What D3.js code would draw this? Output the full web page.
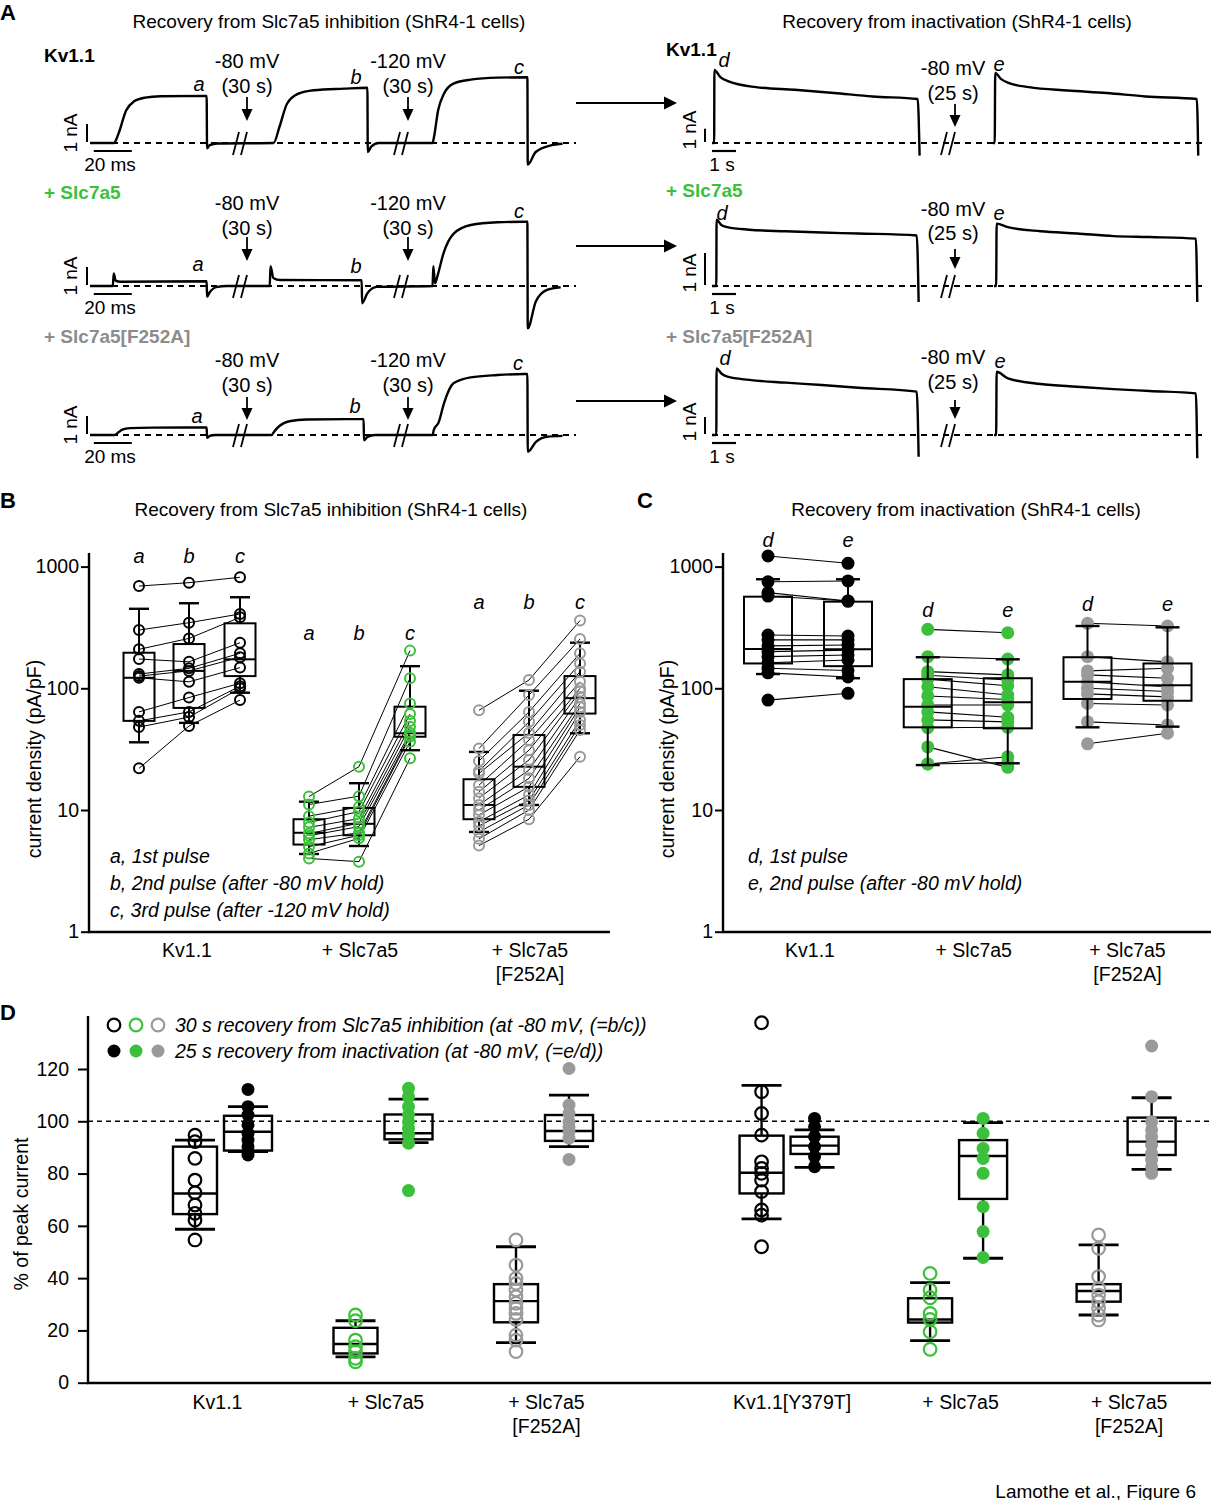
<!DOCTYPE html>
<html><head><meta charset="utf-8">
<script src="https://cdn.jsdelivr.net/npm/d3@7"></script>
<style>body{margin:0;background:#fff;} svg{display:block;font-family:"Liberation Sans",Arial,sans-serif;}</style>
</head><body><svg id="fig" width="1211" height="1500"></svg>
<script>
// ================= DATA =================
// Panel A traces: [time (ms), current (nA)] for left, [time (s), current (nA)] for right
const trKvL = [[0,0],[12.6,0],[15,0.52],[19,1.81],[23,2.3],[29,2.52],[37,2.6],[61.4,2.62],[61.6,-0.3],[63,-0.12],[67,-0.03],[96.6,0],[99.7,0.89],[103.7,2.18],[109.7,2.74],[117.8,2.93],[133.7,3.02],[146,3.07],[146.2,-0.5],[148,-0.2],[152,0],[180.3,0],[181,0.3],[183.2,1.81],[186.3,2.74],[191.3,3.3],[200.4,3.52],[214.5,3.63],[230.2,3.65],[230.4,-1.2],[234.6,-0.5],[242.6,-0.13],[248.7,-0.04]];
const trSlL = [[0,0],[12,0],[12.5,0.7],[13.5,0.3],[16,0.24],[61.4,0.26],[61.6,-0.6],[63,-0.35],[67,-0.05],[72,0],[94.6,0],[95,1.1],[96.5,0.45],[100,0.33],[143,0.32],[143.2,-0.96],[146,-0.4],[151,-0.05],[180.3,0],[180.7,1.1],[181.6,0.15],[183,0.6],[186,1.8],[191.3,2.9],[200.4,3.39],[214.5,3.54],[228.6,3.57],[230.2,3.57],[230.4,-2.35],[234.6,-0.87],[240.5,-0.22],[247.7,-0.07]];
const trFaL = [[0,0],[13,0],[15,0.15],[17,0.3],[21,0.38],[33,0.41],[61.4,0.42],[61.6,-0.15],[63,-0.05],[66,0],[95.6,0],[97,0.2],[99.7,0.5],[105.7,0.78],[113.7,0.86],[135,0.88],[144,0.88],[144.2,-0.3],[146,-0.1],[150,0],[180.3,0],[181,0.3],[183.5,0.7],[186.3,1.76],[191.3,2.87],[200.4,3.2],[214.5,3.33],[228.6,3.39],[230.2,3.39],[230.4,-0.93],[234.6,-0.4],[240.5,-0.1],[248.7,-0.05]];
const trKvRd = [[0,0],[0.09,0],[0.1,5.5],[0.35,4.95],[0.69,4.63],[1.83,4.2],[3.45,4.0],[5.08,3.76],[6.7,3.5],[8.57,3.31],[8.65,-0.95]];
const trKvRe = [[11.7,0],[11.78,0],[11.8,5.26],[12.05,4.8],[12.38,4.5],[13.2,4.2],[14.82,3.95],[16.44,3.76],[18.07,3.5],[20.2,3.31],[20.26,-0.95]];
const trSlRd = [[0,0],[0.18,0],[0.19,2.07],[0.4,1.9],[0.64,1.84],[1.55,1.76],[3.07,1.71],[4.58,1.67],[6.1,1.64],[8.53,1.58],[8.61,-0.5]];
const trSlRe = [[11.75,0],[11.84,0],[11.86,1.95],[12.33,1.84],[13.69,1.71],[15.21,1.64],[16.73,1.56],[18.24,1.53],[20.16,1.48],[20.22,-0.5]];
const trFaRd = [[0,0],[0.18,0],[0.19,3.92],[0.4,3.6],[0.64,3.43],[1.55,3.24],[3.07,3.08],[4.58,2.94],[6.1,2.78],[8.53,2.55],[8.61,-1.28]];
const trFaRe = [[11.75,0],[11.84,0],[11.86,3.72],[12.33,3.33],[13.69,3.0],[15.21,2.84],[16.73,2.7],[18.24,2.59],[20.16,2.45],[20.22,-1.37]];

// Panel B: current density (pA/pF), cells in the same order across pulses a, b, c
const groupsB = ["Kv1.1", "+ Slc7a5", "+ Slc7a5|[F252A]"];
const bKvA = [692, 301, 209, 174, 131, 126, 122, 64, 54, 48, 22];
const bKvB = [738, 346, 257, 165, 146, 139, 113, 84, 64, 58, 49];
const bKvC = [817, 408, 383, 237, 194, 180, 148, 110, 104, 100, 80];
const bSlA = [12.9, 11.1, 8.9, 7.9, 7.2, 6.4, 6.15, 5.7, 5.0, 4.4, 4.0];
const bSlB = [22.7, 13.0, 10.6, 9.7, 8.5, 7.8, 7.3, 6.5, 6.2, 5.85, 3.76];
const bSlC = [204, 121, 75, 61.5, 53.8, 48.4, 43.2, 41.3, 40, 36.4, 26.6];
const bFaA = [66, 32, 25.3, 20.9, 20, 16, 14.1, 12.5, 11, 10, 9.1, 8.0, 7.4, 6.6, 5.8, 5.1];
const bFaB = [117, 88, 64, 53, 43, 37.6, 31, 25.8, 21.3, 18.2, 15.5, 13.3, 12, 11, 10, 8.4];
const bFaC = [360, 254, 194, 160, 137, 113, 100, 94, 85, 75, 70, 64, 55, 50, 45.4, 27.4];
// box stats: [whisker low, q1, median, q3, whisker high]
const bKvABox = [36, 54, 122, 196, 450];
const bKvBBox = [52, 69, 139, 231, 500];
const bKvCBox = [92, 126, 173, 342, 560];
const bSlABox = [4.35, 5.2, 6.5, 8.4, 11.7];
const bSlBBox = [5.06, 6.2, 7.7, 10.4, 16.6];
const bSlCBox = [31, 40, 42.7, 70.6, 152];
const bFaABox = [6.6, 8.4, 11, 17.9, 30];
const bFaBBox = [11, 15.5, 22.7, 41.3, 95.5];
const bFaCBox = [42.7, 62, 83, 126, 237];

// Panel C
const groupsC = ["Kv1.1", "+ Slc7a5", "+ Slc7a5|[F252A]"];
const cKvD = [1222, 751, 611, 573, 274, 250, 223, 200, 182, 162, 146, 134, 80];
const cKvE = [1064, 762, 521, 521, 269, 250, 227, 206, 188, 171, 140, 124, 91];
const cSlD = [305, 182, 137, 128, 119, 103, 86.5, 73, 64, 55, 47.4, 33, 23.9, 23.9];
const cSlE = [286, 174, 129, 117, 105, 88, 81, 73, 57.8, 53, 47.8, 22.4, 27.4, 24.5];
const cFaD = [342, 182, 139, 129, 113, 100, 90, 75, 53, 35];
const cFaE = [325, 165, 146, 121, 103, 94, 85, 73, 50, 42.7];
const cKvDBox = [131, 160, 210, 566, 787];
const cKvEBox = [121, 152, 209, 515, 787];
const cSlDBox = [23.4, 47.8, 70.6, 119, 180];
const cSlEBox = [24.2, 46.9, 76.7, 121, 173];
const cFaDBox = [47.8, 81.7, 113, 180, 325];
const cFaEBox = [48.4, 79, 106, 160, 317];

// Panel D: % of peak current
const groupsD = ["Kv1.1", "+ Slc7a5", "+ Slc7a5|[F252A]", "Kv1.1[Y379T]", "+ Slc7a5", "+ Slc7a5|[F252A]"];
const dKvO = [94.7, 92.2, 85.8, 77.5, 72.7, 68, 64.8, 62.2, 54.6];
const dKvF = [112.2, 105.6, 102.4, 98.6, 95.4, 92.8, 90.3, 87.1];
const dSlO = [25.9, 23.7, 16.3, 13.8, 11.9, 9.3, 8];
const dSlF = [112.6, 109.4, 105.6, 102.4, 99.8, 97.3, 94.7, 91.6, 73.5];
const dFaO = [54.6, 45, 39.9, 38, 35.5, 32.9, 30.4, 28.4, 26.5, 24.2, 18.2, 16.3, 11.9];
const dFaF = [120.2, 106.2, 103, 99.8, 97.9, 96, 93.5, 85.4];
const dYO = [137.7, 111.3, 103, 94.7, 84.5, 82, 80.1, 77.5, 73.1, 66.1, 64.1, 52];
const dYF = [101.1, 97.9, 94.1, 90.3, 86.5, 82.6];
const dYSlO = [41.8, 35.5, 32.5, 26.5, 24.2, 19.5, 12.8];
const dYSlF = [101.1, 95.4, 89.6, 85.8, 80.1, 67.3, 57.8, 47.9];
const dYFaO = [56.5, 51.4, 40.6, 36.1, 33.5, 31, 28.4, 25.9, 24];
const dYFaF = [128.8, 109.4, 99.8, 96.7, 94.1, 90.9, 87.7, 85.2, 82.6, 80.1];
const dKvOBox = [58.7, 64.5, 72.4, 90.3, 92.8];
const dKvFBox = [88.4, 88.8, 96, 102.1, 105.6];
const dSlOBox = [9.9, 11.2, 14.8, 21, 23.7];
const dSlFBox = [91.8, 93.1, 95.4, 102.6, 108.5];
const dFaOBox = [15.3, 23.1, 31.2, 37.7, 52];
const dFaFBox = [90.3, 92.5, 96.3, 102.4, 110];
const dYOBox = [62.7, 72.4, 80.3, 94.5, 113.7];
const dYFBox = [82.4, 87.5, 90.7, 94.1, 96.7];
const dYSlOBox = [16.1, 23, 24.2, 32.3, 38.3];
const dYSlFBox = [47.6, 70.3, 86.7, 92.8, 99.5];
const dYFaOBox = [25.9, 31, 35.1, 37.7, 52.7];
const dYFaFBox = [81.6, 87.1, 92.2, 101.4, 109];

const logTicks = [1, 10, 100, 1000];
const pctTicks = [0, 20, 40, 60, 80, 100, 120];

// ================= DRAWING =================
const GREEN = "#3cc03c", GRAY = "#9a9a9a", GRAYTXT = "#8c8c8c";
const FS = 19.5;
const svg = d3.select("#fig");
svg.append("rect").attr("width", 1211).attr("height", 1500).attr("fill", "#fff");

function txt(x, y, s, o = {}) {
  const t = svg.append("text").attr("x", x).attr("y", y).text(s)
    .attr("font-size", o.size || FS).attr("text-anchor", o.anchor || "middle")
    .attr("dominant-baseline", "central").attr("fill", o.fill || "#000");
  if (o.weight) t.attr("font-weight", o.weight);
  if (o.style) t.attr("font-style", o.style);
  if (o.rotate) t.attr("transform", `rotate(${o.rotate},${x},${y})`);
  return t;
}
function ln(x1, y1, x2, y2, w = 2, c = "#000", dash = null) {
  const l = svg.append("line").attr("x1", x1).attr("y1", y1).attr("x2", x2).attr("y2", y2)
    .attr("stroke", c).attr("stroke-width", w);
  if (dash) l.attr("stroke-dasharray", dash);
  return l;
}
function vArrow(x, y1, y2) {
  ln(x, y1, x, y2 - 10, 1.8);
  svg.append("path").attr("d", `M${x - 5.5},${y2 - 12}L${x + 5.5},${y2 - 12}L${x},${y2}Z`).attr("fill", "#000");
}
function hArrow(x1, x2, y) {
  ln(x1, y, x2 - 10, y, 2.2);
  svg.append("path").attr("d", `M${x2 - 13},${y - 6.5}L${x2 - 13},${y + 6.5}L${x2},${y}Z`).attr("fill", "#000");
}
function brk(cx, cy) {
  ln(cx - 8, cy + 12, cx - 2, cy - 11, 1.8);
  ln(cx + 0, cy + 12, cx + 6, cy - 11, 1.8);
}

// ---------- Panel A ----------
txt(0, 12, "A", { size: 22, weight: "bold", anchor: "start" });
txt(329, 21, "Recovery from Slc7a5 inhibition (ShR4-1 cells)", { size: 19 });
txt(957, 21, "Recovery from inactivation (ShR4-1 cells)", { size: 19 });

const xL = d3.scaleLinear().domain([0, 250]).range([90, 565]);
const xR = d3.scaleLinear().domain([0, 20.3]).range([712, 1199.2]);

const rows = [
  { name: "Kv1.1", col: "#000", L: trKvL, Rd: trKvRd, Re: trKvRe, base: 143, nAL: 18, nAR: 13.3,
    nameY: 55, nameRY: 49, mv: [61, 86, 97, 121], mvR: [68, 93, 104, 127],
    a: [199, 84], b: [356, 77], c: [519, 67], d: [724, 60], e: [999, 64], arrowY: 103 },
  { name: "+ Slc7a5", col: GREEN, L: trSlL, Rd: trSlRd, Re: trSlRe, base: 286, nAL: 18, nAR: 32,
    nameY: 192, nameRY: 190, mv: [203, 228, 237, 261], mvR: [209, 233, 249, 269],
    a: [198, 264], b: [356, 266], c: [519, 211], d: [722, 213], e: [999, 213], arrowY: 246 },
  { name: "+ Slc7a5[F252A]", col: GRAYTXT, L: trFaL, Rd: trFaRd, Re: trFaRe, base: 435, nAL: 18, nAR: 17,
    nameY: 336, nameRY: 336, mv: [360, 385, 397, 420], mvR: [357, 382, 400, 419],
    a: [197, 416], b: [355, 406], c: [518, 363], d: [725, 358], e: [1000, 361], arrowY: 401 }
];

rows.forEach(r => {
  const yL = d3.scaleLinear().domain([0, 1]).range([r.base, r.base - r.nAL]);
  const yR = d3.scaleLinear().domain([0, 1]).range([r.base, r.base - r.nAR]);
  txt(44, r.nameY, r.name, { size: 19, weight: "bold", anchor: "start", fill: r.col });
  txt(666, r.nameRY, r.name, { size: 19, weight: "bold", anchor: "start", fill: r.col });
  ln(90, r.base, 576, r.base, 2, "#000", "6,5");
  ln(712, r.base, 1203, r.base, 2, "#000", "6,5");
  const lineL = d3.line().x(d => xL(d[0])).y(d => yL(d[1])).curve(d3.curveMonotoneX);
  svg.append("path").attr("d", lineL(r.L)).attr("fill", "none").attr("stroke", "#000").attr("stroke-width", 2.4).attr("stroke-linejoin", "round");
  const lineR = d3.line().x(d => xR(d[0])).y(d => yR(d[1])).curve(d3.curveMonotoneX);
  [r.Rd, r.Re].forEach(tr => svg.append("path").attr("d", lineR(tr)).attr("fill", "none").attr("stroke", "#000").attr("stroke-width", 2.4).attr("stroke-linejoin", "round"));
  brk(241, r.base); brk(402, r.base); brk(949, r.base);
  [[247, "-80 mV"], [408, "-120 mV"]].forEach(([x, s]) => {
    txt(x, r.mv[0], s, { size: 20 });
    txt(x, r.mv[1], "(30 s)", { size: 20 });
    vArrow(x, r.mv[2], r.mv[3]);
  });
  txt(953, r.mvR[0], "-80 mV", { size: 20 });
  txt(953, r.mvR[1], "(25 s)", { size: 20 });
  vArrow(955, r.mvR[2], r.mvR[3]);
  [["a", r.a], ["b", r.b], ["c", r.c], ["d", r.d], ["e", r.e]].forEach(([s, p]) => txt(p[0], p[1], s, { size: 20, style: "italic" }));
  ln(87, yL(1) - 1, 87, yL(0) - 1, 2);
  txt(70, r.base - 10, "1 nA", { size: 19, rotate: -90 });
  ln(xL(2), r.base + 8, xL(22), r.base + 8, 2.2);
  txt(110, r.base + 21, "20 ms", { size: 19 });
  ln(705, yR(1) - 1, 705, yR(0) - 1, 2);
  txt(689, r.base - 13, "1 nA", { size: 19, rotate: -90 });
  ln(xR(0), r.base + 8, xR(1), r.base + 8, 2.2);
  txt(722, r.base + 21, "1 s", { size: 19 });
  hArrow(576, 677, r.arrowY);
});

// ---------- shared box drawing ----------
function drawBox(xc, s, y, w, cap, sw = 2) {
  ln(xc, y(s[4]), xc, y(s[3]), sw);
  ln(xc, y(s[1]), xc, y(s[0]), sw);
  ln(xc - cap / 2, y(s[4]), xc + cap / 2, y(s[4]), sw + 0.4);
  ln(xc - cap / 2, y(s[0]), xc + cap / 2, y(s[0]), sw + 0.4);
  svg.append("rect").attr("x", xc - w / 2).attr("y", y(s[3])).attr("width", w)
    .attr("height", y(s[1]) - y(s[3])).attr("fill", "none").attr("stroke", "#000").attr("stroke-width", sw);
  ln(xc - w / 2, y(s[2]), xc + w / 2, y(s[2]), sw);
}
function logAxis(x, y, top) {
  const g = svg.append("g").attr("transform", `translate(${x},0)`)
    .call(d3.axisLeft(y).tickValues(logTicks).tickFormat(d3.format("d")).tickSize(8).tickPadding(2).tickSizeOuter(0));
  g.select(".domain").remove();
  g.selectAll(".tick line").attr("stroke-width", 2);
  g.selectAll(".tick text").attr("font-size", 19.5).attr("font-family", "Liberation Sans, Arial, sans-serif").attr("fill", "#000");
  ln(x, top, x, y(1) + 1, 2.4);
}
function groupLabel(x, y, s) {
  s.split("|").forEach((p, i) => txt(x, y + i * 24, p, { size: FS }));
}

// ---------- Panel B ----------
txt(0, 500, "B", { size: 22, weight: "bold", anchor: "start" });
txt(331, 509, "Recovery from Slc7a5 inhibition (ShR4-1 cells)", { size: 19 });
const yB = d3.scaleLog().domain([1, 1000]).range([931.7, 566.6]);
const xB = d3.scaleLinear().domain([0, 2]).range([189, 529]);
const subB = [-50, 0, 51];
logAxis(89, yB, 553);
ln(88, 932, 610, 932, 2.4);
txt(34, 759, "current density (pA/pF)", { size: FS, rotate: -90 });
const seriesB = [
  { col: "#000", v: [bKvA, bKvB, bKvC], box: [bKvABox, bKvBBox, bKvCBox], letY: 556 },
  { col: GREEN, v: [bSlA, bSlB, bSlC], box: [bSlABox, bSlBBox, bSlCBox], letY: 633 },
  { col: GRAY, v: [bFaA, bFaB, bFaC], box: [bFaABox, bFaBBox, bFaCBox], letY: 602 }
];
seriesB.forEach((S, g) => {
  const xs = subB.map(o => xB(g) + o);
  const lineB = d3.line();
  S.v[0].forEach((_, i) => {
    svg.append("path").attr("d", lineB(xs.map((x, k) => [x, yB(S.v[k][i])])))
      .attr("fill", "none").attr("stroke", "#000").attr("stroke-width", 1);
  });
  S.box.forEach((b, k) => drawBox(xs[k], b, yB, 31, 20, 2));
  S.v.forEach((vals, k) => vals.forEach(v => svg.append("circle").attr("cx", xs[k]).attr("cy", yB(v)).attr("r", 5)
    .attr("fill", "none").attr("stroke", S.col).attr("stroke-width", 2)));
  ["a", "b", "c"].forEach((s, k) => txt(xs[k], S.letY, s, { size: 20, style: "italic" }));
  groupLabel([187, 360, 530][g], 950, groupsB[g]);
});
txt(110, 856, "a, 1st pulse", { size: FS, style: "italic", anchor: "start" });
txt(110, 883, "b, 2nd pulse (after -80 mV hold)", { size: FS, style: "italic", anchor: "start" });
txt(110, 910, "c, 3rd pulse (after -120 mV hold)", { size: FS, style: "italic", anchor: "start" });

// ---------- Panel C ----------
txt(637, 500, "C", { size: 22, weight: "bold", anchor: "start" });
txt(966, 509, "Recovery from inactivation (ShR4-1 cells)", { size: 19 });
const yC = yB.copy();
const xC = d3.scaleLinear().domain([0, 2]).range([808, 1127.5]);
const subC = [-40, 40];
logAxis(723, yC, 553);
ln(722, 932, 1211, 932, 2.4);
txt(667, 759, "current density (pA/pF)", { size: FS, rotate: -90 });
const seriesC = [
  { col: "#000", v: [cKvD, cKvE], box: [cKvDBox, cKvEBox], letY: 540 },
  { col: GREEN, v: [cSlD, cSlE], box: [cSlDBox, cSlEBox], letY: 610 },
  { col: GRAY, v: [cFaD, cFaE], box: [cFaDBox, cFaEBox], letY: 604 }
];
seriesC.forEach((S, g) => {
  const xs = subC.map(o => xC(g) + o);
  S.v[0].forEach((_, i) => ln(xs[0], yC(S.v[0][i]), xs[1], yC(S.v[1][i]), 1.1));
  S.v.forEach((vals, k) => vals.forEach(v => svg.append("circle").attr("cx", xs[k]).attr("cy", yC(v)).attr("r", 6.5).attr("fill", S.col)));
  S.box.forEach((b, k) => drawBox(xs[k], b, yC, 48, 24, 2));
  ["d", "e"].forEach((s, k) => txt(xs[k], S.letY, s, { size: 20, style: "italic" }));
  groupLabel(xC(g) + [2, 6, 0][g], 950, groupsC[g]);
});
txt(748, 856, "d, 1st pulse", { size: FS, style: "italic", anchor: "start" });
txt(748, 883, "e, 2nd pulse (after -80 mV hold)", { size: FS, style: "italic", anchor: "start" });

// ---------- Panel D ----------
txt(0, 1012, "D", { size: 22, weight: "bold", anchor: "start" });
const yD = d3.scaleLinear().domain([0, 120]).range([1382.7, 1069]);
const xD = d3.scaleLinear().domain([0, 1]).range([221.5, 382]);
const slotsD = [0, 1, 2, 3.53, 4.58, 5.63];
{
  const g = svg.append("g").attr("transform", "translate(88,0)")
    .call(d3.axisLeft(yD).tickValues(pctTicks).tickSize(10).tickPadding(9).tickSizeOuter(0));
  g.select(".domain").remove();
  g.selectAll(".tick line").attr("stroke-width", 2);
  g.selectAll(".tick text").attr("font-size", 19.5).attr("font-family", "Liberation Sans, Arial, sans-serif").attr("fill", "#000");
  ln(88, 1016, 88, 1384, 2.4);
  ln(87, 1383, 1211, 1383, 2.4);
}
ln(88, yD(100), 1211, yD(100), 1.6, "#000", "5,4");
txt(21, 1214, "% of peak current", { size: FS, rotate: -90 });
const seriesD = [
  { col: "#000", o: dKvO, f: dKvF, ob: dKvOBox, fb: dKvFBox },
  { col: GREEN, o: dSlO, f: dSlF, ob: dSlOBox, fb: dSlFBox },
  { col: GRAY, o: dFaO, f: dFaF, ob: dFaOBox, fb: dFaFBox },
  { col: "#000", o: dYO, f: dYF, ob: dYOBox, fb: dYFBox },
  { col: GREEN, o: dYSlO, f: dYSlF, ob: dYSlOBox, fb: dYSlFBox },
  { col: GRAY, o: dYFaO, f: dYFaF, ob: dYFaOBox, fb: dYFaFBox }
];
seriesD.forEach((S, g) => {
  const xc = xD(slotsD[g]);
  const xo = xc - 26.5, xf = xc + 26.5;
  drawBox(xo, S.ob, yD, 44, 40, 2.4);
  drawBox(xf, S.fb, yD, 48, 40, 2.4);
  S.o.forEach(v => svg.append("circle").attr("cx", xo).attr("cy", yD(v)).attr("r", 6.3).attr("fill", "none").attr("stroke", S.col).attr("stroke-width", 2.2));
  S.f.forEach(v => svg.append("circle").attr("cx", xf).attr("cy", yD(v)).attr("r", 6.5).attr("fill", S.col));
  groupLabel(xc + (g === 0 ? -4 : 4), 1402, groupsD[g]);
});
[["#000", 114], [GREEN, 136], [GRAY, 158]].forEach(([c, x]) => {
  svg.append("circle").attr("cx", x).attr("cy", 1025).attr("r", 6.3).attr("fill", "none").attr("stroke", c).attr("stroke-width", 2.2);
  svg.append("circle").attr("cx", x).attr("cy", 1051).attr("r", 6.5).attr("fill", c);
});
txt(175, 1025, "30 s recovery from Slc7a5 inhibition (at -80 mV, (=b/c))", { size: FS, style: "italic", anchor: "start" });
txt(175, 1051, "25 s recovery from inactivation (at -80 mV, (=e/d))", { size: FS, style: "italic", anchor: "start" });

txt(1196, 1491, "Lamothe et al., Figure 6", { size: 19, anchor: "end" });
</script></body></html>
